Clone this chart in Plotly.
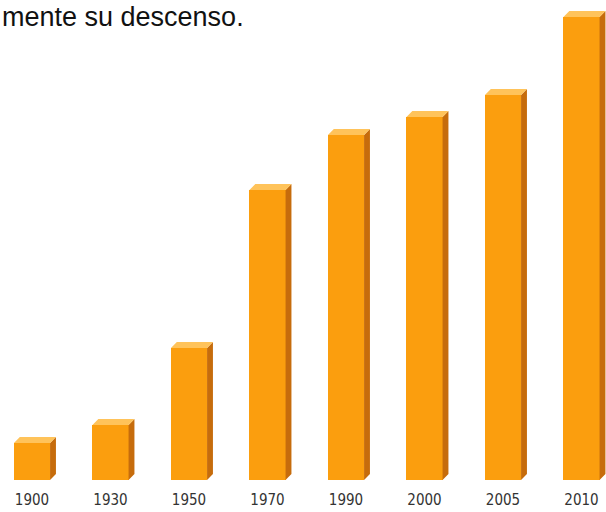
import plotly.graph_objects as go

# Years shown under the columns and the height of each column
years = ["1900", "1930", "1950", "1970", "1990", "2000", "2005", "2010"]
values = [37, 55, 132, 290, 345, 363, 385, 463]

caption = "mente su descenso."

FRONT = "#FB9E0E"
SIDE = "#C66C0C"
TOP = "#FFC35A"

W, H = 606, 512
half = 0.23      # half width of the front face (axis units)
dx = 0.075       # depth offset, horizontal (axis units)
dy = 6           # depth offset, vertical (axis units)

idx = list(range(len(years)))

fig = go.Figure()

# front faces
fig.add_trace(go.Bar(
    x=idx, y=values, width=2 * half,
    marker=dict(color=FRONT, line=dict(width=0)),
    hoverinfo="skip", showlegend=False,
))

# right-hand side faces, one closed polygon per column
sx, sy = [], []
for i, v in zip(idx, values):
    sx += [i + half, i + half + dx, i + half + dx, i + half, i + half, None]
    sy += [0, dy, v + dy, v, 0, None]
fig.add_trace(go.Scatter(
    x=sx, y=sy, mode="lines", fill="toself",
    fillcolor=SIDE, line=dict(width=0), hoverinfo="skip", showlegend=False,
))

# top faces
tx, ty = [], []
for i, v in zip(idx, values):
    tx += [i - half, i + half, i + half + dx, i - half + dx, i - half, None]
    ty += [v, v, v + dy, v + dy, v, None]
fig.add_trace(go.Scatter(
    x=tx, y=ty, mode="lines", fill="toself",
    fillcolor=TOP, line=dict(width=0), hoverinfo="skip", showlegend=False,
))

spacing = 78.5
first_center = 32
x0 = -first_center / spacing
x1 = x0 + W / spacing

fig.update_layout(
    width=W, height=H,
    margin=dict(l=0, r=0, t=0, b=0),
    paper_bgcolor="white", plot_bgcolor="white",
    bargap=0,
    xaxis=dict(
        range=[x0, x1], domain=[0, 1],
        tickvals=idx, ticktext=years,
        showgrid=False, zeroline=False, showline=False, ticks="",
        tickfont=dict(family="Liberation Sans Narrow, DejaVu Sans Condensed, Roboto, sans-serif",
                      size=15, color="#333333"),
        ticklabelstandoff=9,
        fixedrange=True,
    ),
    yaxis=dict(
        range=[0, 480], domain=[32 / H, 1],
        visible=False, fixedrange=True,
    ),
    annotations=[dict(
        text=caption, xref="paper", yref="paper",
        x=0, y=1 - 17 / H, xanchor="left", yanchor="middle",
        showarrow=False,
        font=dict(family="Liberation Sans, Arial, sans-serif", size=27, color="#111111"),
    )],
)

fig.write_html("out.html")
